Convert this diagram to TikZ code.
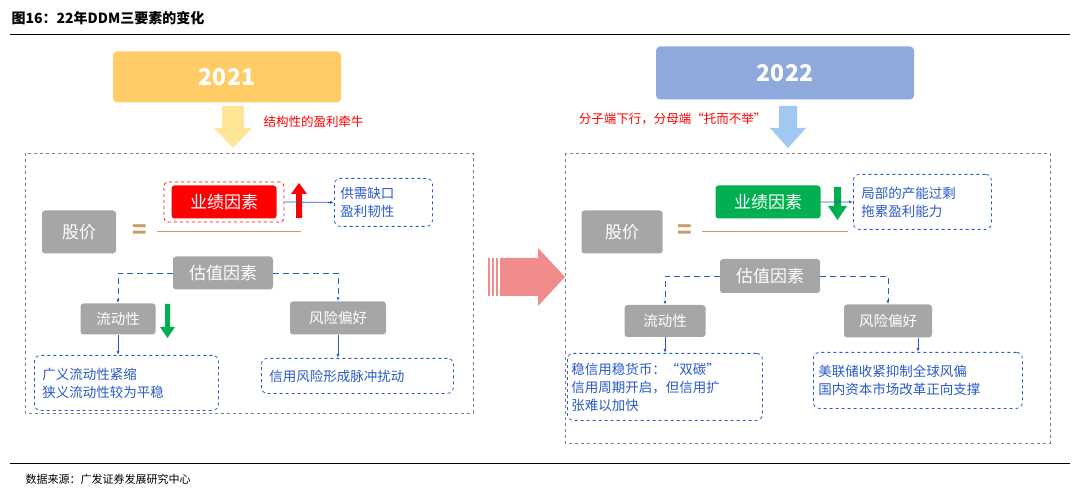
\documentclass[tikz,border=0pt]{standalone}
\usepackage{fontspec}
\setmainfont{Noto Sans CJK SC}
\usetikzlibrary{arrows.meta}
\definecolor{gbox}{RGB}{166,166,166}
\definecolor{tan}{RGB}{196,160,100}
\definecolor{blu}{RGB}{40,90,200}
\definecolor{yel}{RGB}{255,204,102}
\definecolor{yellt}{RGB}{255,230,150}
\definecolor{bl22}{RGB}{142,170,220}
\definecolor{bllt}{RGB}{160,200,240}
\definecolor{pnk}{RGB}{240,140,140}
\definecolor{grn}{RGB}{0,176,80}
\tikzset{
  gray box/.style = {fill=gbox, rounded corners=3pt, text=white, font=\fontsize{17}{17}\selectfont, inner sep=0pt},
  note box/.style = {draw=blu, dashed, thick, rounded corners=6pt, text=blu, align=left, font=\fontsize{13.5}{18}\selectfont, inner sep=0pt, anchor=north west},
  link/.style = {blu, thick, -{Latex[length=4pt]}},
  dlink/.style = {blu, thick, dash pattern=on 6pt off 4pt, -{Latex[length=4pt]}},
  frame/.style = {draw=gray, dashed}
}
\begin{document}
\begin{tikzpicture}[x=1pt,y=-1pt]
\useasboundingbox (0,0) rectangle (1080,497);

% title
\node[anchor=west, font=\bfseries\fontsize{14}{14}\selectfont] (title) at (8,18) {图16：22年DDM三要素的变化};
\draw (10,34) -- (1070,34);
\draw (10,463) -- (1070,463);
\node[anchor=west, font=\fontsize{11}{11}\selectfont] (src) at (22,479) {数据来源：广发证券发展研究中心};

% ---- 2021 ----
\node[fill=yel, rounded corners=4pt, minimum width=228pt, minimum height=51pt, text=white, font=\bfseries\fontsize{23}{23}\selectfont] (y21) at (227,77) {2021};
\fill[yellt] (222,106) -- (244,106) -- (244,128) -- (252,128) -- (233,148) -- (214,128) -- (222,128) -- cycle;
\node[anchor=west, text=red, font=\fontsize{12.5}{12.5}\selectfont] (t21) at (260,122) {结构性的盈利牵牛};
\draw[frame] (25,153) rectangle (473,413);

\node[gray box, minimum width=74pt, minimum height=43pt] (gj1) at (79,232) {股价};
\node[text=tan, font=\bfseries\fontsize{24}{24}\selectfont] (eq1) at (140,232) {=};
\draw[tan, thick] (157,231) -- (301,231);
\node[draw=red, dashed, thick, rounded corners=4pt, minimum width=120pt, minimum height=40pt] (yjo1) at (224,202) {};
\node[fill=red, rounded corners=3pt, text=white, minimum width=105pt, minimum height=33pt, font=\fontsize{17}{17}\selectfont, inner sep=0pt] (yj1) at (224,202) {业绩因素};
\fill[red] (296,218) -- (302,218) -- (302,194) -- (307,194) -- (299,183) -- (291,194) -- (296,194) -- cycle;
\node[note box, minimum width=96pt, minimum height=48pt, text width=86pt, inner xsep=6pt] (n1) at (334,178) {供需缺口\\盈利韧性};
\draw[link] (yjo1.east) -- (n1.west);

\node[gray box, minimum width=100pt, minimum height=33pt] (gz1) at (223,273) {估值因素};
\node[gray box, minimum width=75pt, minimum height=31pt, font=\fontsize{14.5}{14.5}\selectfont] (ld1) at (118,319) {流动性};
\node[gray box, minimum width=96pt, minimum height=33pt, font=\fontsize{14.5}{14.5}\selectfont] (fx1) at (338,318) {风险偏好};
\draw[dlink] (gz1.west) -| (ld1.north);
\draw[dlink] (gz1.east) -| (fx1.north);
\fill[grn] (165,304) -- (170,304) -- (170,327) -- (175,327) -- (167.5,338) -- (160,327) -- (165,327) -- cycle;
\node[note box, minimum width=180pt, minimum height=55pt, text width=168pt, inner xsep=8pt] (n2) at (34,355) {广义流动性紧缩\\狭义流动性较为平稳};
\node[note box, minimum width=188pt, minimum height=35pt, text width=176pt, inner xsep=8pt] (n3) at (261,358) {信用风险形成脉冲扰动};
\draw[link] (ld1.south) -- (ld1.south |- n2.north);
\draw[link] (fx1.south) -- (fx1.south |- n3.north);

% ---- middle arrow ----
\fill[pnk] (500,258) -- (538,258) -- (538,248) -- (565,277) -- (538,306) -- (538,296) -- (500,296) -- cycle;
\foreach \sx in {488,492,496} \fill[pnk] (\sx,258) rectangle ++(2,38);

% ---- 2022 ----
\node[fill=bl22, rounded corners=4pt, minimum width=258pt, minimum height=53pt, text=white, font=\bfseries\fontsize{23}{23}\selectfont] (y22) at (785,73) {2022};
\fill[bllt] (779,106) -- (797,106) -- (797,128) -- (806,128) -- (788,148) -- (770,128) -- (779,128) -- cycle;
\node[anchor=east, text=red, font=\fontsize{12.5}{12.5}\selectfont] (t22) at (770,119) {分子端下行，分母端“托而不举”};
\draw[frame] (565,153) rectangle (1050,443);

\node[gray box, minimum width=81pt, minimum height=43pt] (gj2) at (622,232) {股价};
\node[text=tan, font=\bfseries\fontsize{24}{24}\selectfont] (eq2) at (685,232) {=};
\draw[tan, thick] (702,231) -- (848,231);
\node[fill=grn, rounded corners=3pt, text=white, minimum width=105pt, minimum height=33pt, font=\fontsize{17}{17}\selectfont, inner sep=0pt] (yj2) at (768,202) {业绩因素};
\fill[grn] (834,187) -- (841,187) -- (841,206) -- (847,206) -- (837.5,220) -- (828,206) -- (834,206) -- cycle;
\node[note box, minimum width=136pt, minimum height=55pt, text width=122pt, inner xsep=8pt] (n4) at (853,174) {局部的产能过剩\\拖累盈利能力};
\draw[link] (yj2.east) -- (n4.west);

\node[gray box, minimum width=100pt, minimum height=34pt] (gz2) at (770,276) {估值因素};
\node[gray box, minimum width=81pt, minimum height=32pt, font=\fontsize{14.5}{14.5}\selectfont] (ld2) at (665,321) {流动性};
\node[gray box, minimum width=88pt, minimum height=33pt, font=\fontsize{14.5}{14.5}\selectfont] (fx2) at (888,321) {风险偏好};
\draw[dlink] (gz2.west) -| (ld2.north);
\draw[dlink] (gz2.east) -| (fx2.north);
\node[note box, minimum width=195pt, minimum height=67pt, text width=187pt, inner xsep=4pt] (n5) at (567,353) {稳信用稳货币：“双碳”\\信用周期开启，但信用扩\\张难以加快};
\node[note box, minimum width=209pt, minimum height=56pt, text width=199pt, inner xsep=5pt] (n6) at (813,352) {美联储收紧抑制全球风偏\\国内资本市场改革正向支撑};
\draw[link] (ld2.south) -- (ld2.south |- n5.north);
\draw[link] (fx2.south -| 918,0) -- (918,0 |- n6.north);
\end{tikzpicture}
\end{document}
